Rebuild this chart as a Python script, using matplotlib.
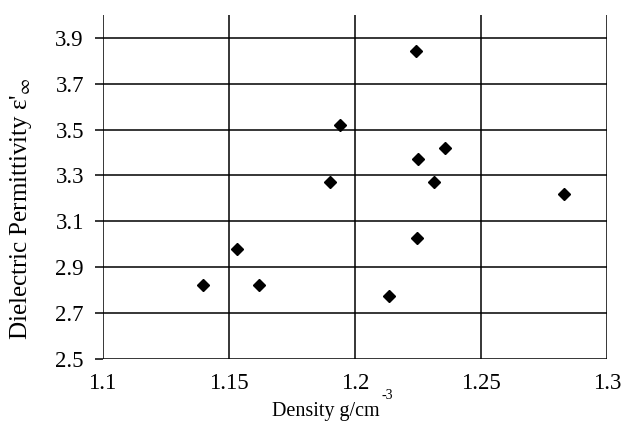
import numpy as np
import matplotlib
matplotlib.use("Agg")
import matplotlib.pyplot as plt

plt.rcParams['font.family'] = ['Liberation Serif', 'DejaVu Serif']
plt.rcParams['mathtext.fontset'] = 'stix'

# density (g/cm^-3) and dielectric permittivity
density = [1.2243, 1.1942, 1.2356, 1.2252, 1.1900, 1.2313, 1.2831,
           1.2246, 1.2137, 1.1531, 1.1399, 1.1621]
permittivity = [3.845, 3.519, 3.421, 3.372, 3.272, 3.272, 3.219,
                3.026, 2.775, 2.979, 2.820, 2.820]

x_ticks = [1.1, 1.15, 1.2, 1.25, 1.3]
x_labels = ["1.1", "1.15", "1.2", "1.25", "1.3"]
y_ticks = [2.5, 2.7, 2.9, 3.1, 3.3, 3.5, 3.7, 3.9]

W, H = 622, 429
fig = plt.figure(figsize=(W / 100, H / 100), dpi=100)
ax = fig.add_axes([0.165, 0.164, 0.811, 0.801])

# grid lines drawn by hand so every tick gets a full black line
for x in x_ticks:
    ax.axvline(x, color='black', lw=1.1, zorder=1)
for y in y_ticks:
    ax.axhline(y, color='black', lw=1.1, zorder=1)

ax.plot(density, permittivity, linestyle='none', marker='D', ms=6.5,
        color='black', zorder=3)

ax.set_xlim(1.1, 1.3)
ax.set_ylim(2.5, 4.0)
ax.set_xticks(x_ticks)
ax.set_xticklabels(x_labels)
ax.set_yticks(y_ticks)
ax.set_yticklabels(["%.1f" % v for v in y_ticks])

for s in ax.spines.values():
    s.set_visible(False)

ax.tick_params(axis='x', length=0, pad=10, labelsize=16.5)
ax.tick_params(axis='y', length=5.5, width=1.1, direction='out', pad=8, labelsize=16.5)

# axis titles placed in pixels, the original sits a bit off centre
fig.text(272 / W, 1 - 416 / H, "Density g/cm", fontsize=14.5,
         ha='left', va='baseline')
fig.text(382 / W, 1 - 399 / H, "-3", fontsize=10, ha='left', va='baseline')
fig.text(21 / W, 1 - 209 / H, "Dielectric Permittivity ε'$_{\\infty}$",
         fontsize=18, rotation=90, ha='center', va='center')

fig.savefig("out.png", dpi=100, facecolor='white')
